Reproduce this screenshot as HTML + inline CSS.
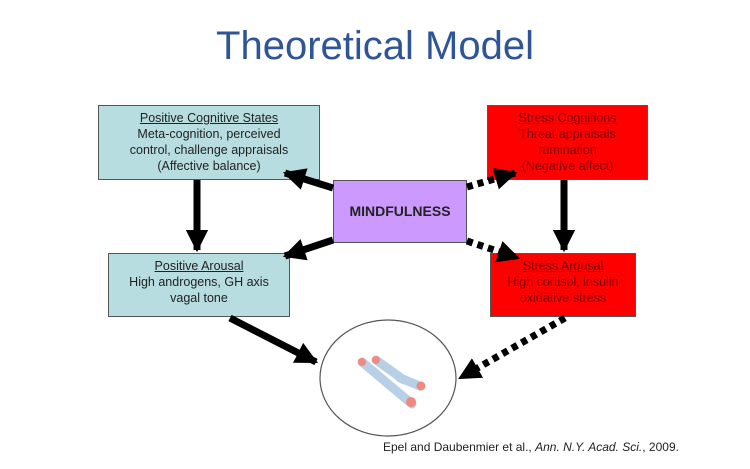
<!DOCTYPE html>
<html><head><meta charset="utf-8"><style>
body{margin:0;width:750px;height:469px;background:#fff;overflow:hidden;position:relative;font-family:"Liberation Sans",Arial,sans-serif}
.t{position:absolute;left:0;width:750px;top:24px;text-align:center;font-size:40px;color:#2F5597;font-family:"Liberation Sans",sans-serif}
.b{position:absolute;box-sizing:border-box;border:1.5px solid #555;text-align:center;font-size:12.5px;line-height:16px;color:#222;padding-top:4px}
.b u{display:block}
.blue{background:#b7dde0}
.red{background:#ff0000;color:#7a0000}
.cite{position:absolute;left:383px;top:440px;font-size:12px;color:#222}
svg{position:absolute;left:0;top:0}
</style></head><body>
<div class="t">Theoretical Model</div>
<div class="b blue" style="left:98px;top:105px;width:222px;height:75px"><u>Positive Cognitive States</u>Meta-cognition, perceived<br>control, challenge appraisals<br>(Affective balance)</div>
<div class="b red" style="left:487px;top:105px;width:161px;height:75px"><u>Stress Cognitions</u>Threat appraisals<br>rumination<br>(Negative affect)</div>
<div class="b" style="left:333px;top:180px;width:134px;height:63px;background:#cc99ff;font-weight:bold;font-size:14px;padding-top:22px">MINDFULNESS</div>
<div class="b blue" style="left:108px;top:253px;width:182px;height:64px"><u>Positive Arousal</u>High androgens, GH axis<br>vagal tone</div>
<div class="b red" style="left:490px;top:253px;width:146px;height:64px"><u>Stress Arousal</u>High cortisol, insulin<br>oxidative stress</div>
<svg width="750" height="469">
<defs>
<marker id="a" viewBox="0 0 10 10" refX="9" refY="5" markerWidth="3.2" markerHeight="3.2" orient="auto"><path d="M0,0L10,5L0,10z" fill="#000"/></marker>
</defs>
<g stroke="#000" stroke-width="7" fill="none" marker-end="url(#a)">
<line x1="197" y1="180" x2="197" y2="250"/>
<line x1="564" y1="180" x2="564" y2="250"/>
<line x1="333" y1="188" x2="285" y2="173"/>
<line x1="333" y1="240" x2="285" y2="256"/>
<line x1="230" y1="318" x2="316" y2="362"/>
</g>
<g stroke="#000" stroke-width="7" fill="none" stroke-dasharray="6,5" marker-end="url(#a)">
<line x1="467" y1="187" x2="515" y2="173"/>
<line x1="467" y1="241" x2="518" y2="258"/>
<line x1="565" y1="318" x2="460" y2="378"/>
</g>
<ellipse cx="388" cy="378" rx="68" ry="58" fill="#fff" stroke="#555" stroke-width="1.2"/>
<g stroke-linecap="round">
<line x1="362" y1="362" x2="412" y2="404" stroke="#b8cfe8" stroke-width="9"/>
<line x1="376" y1="360" x2="404" y2="380" stroke="#b8cfe8" stroke-width="9"/>
<line x1="400" y1="378" x2="420" y2="386" stroke="#b8cfe8" stroke-width="9"/>
<circle cx="362" cy="362" r="4" fill="#f08a80"/>
<circle cx="376" cy="360" r="4" fill="#f08a80"/>
<circle cx="421" cy="386" r="4.5" fill="#f08a80"/>
<circle cx="411" cy="402" r="5" fill="#f08a80"/>
</g>
</svg>
<div class="cite">Epel and Daubenmier et al., <i>Ann. N.Y. Acad. Sci.</i>, 2009.</div>
</body></html>
